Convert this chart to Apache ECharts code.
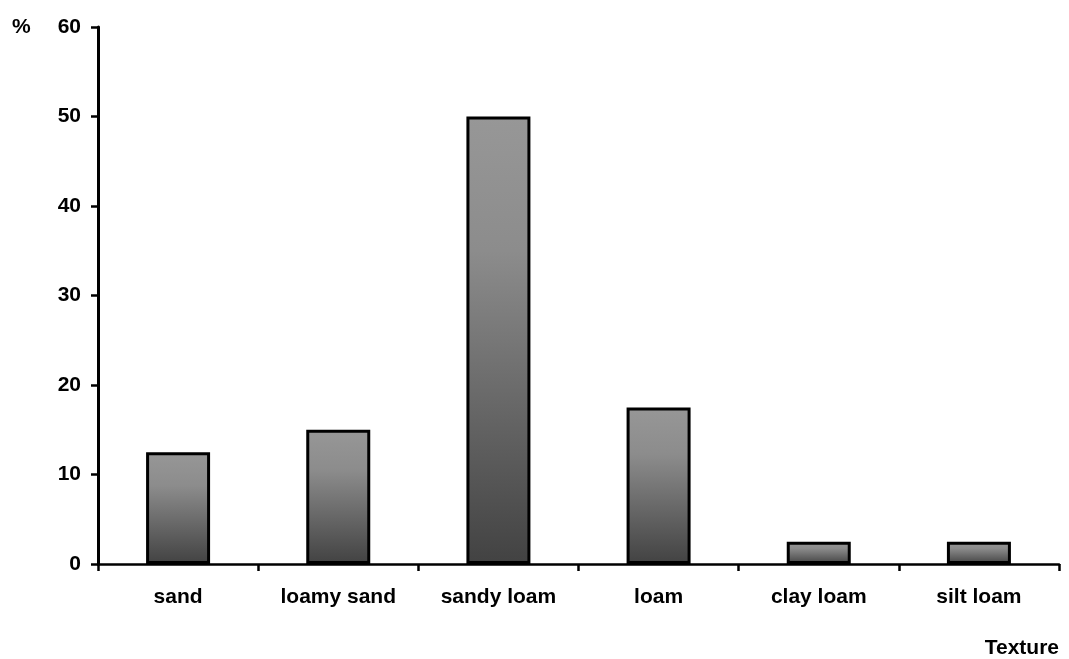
<!DOCTYPE html>
<html>
<head>
<meta charset="utf-8">
<script src="https://cdn.jsdelivr.net/npm/echarts@6/dist/echarts.min.js"></script>
<style>
  html, body { margin: 0; padding: 0; background: #fff; }
  #chart { width: 1069px; height: 659px; }
</style>
</head>
<body>
<div id="chart"></div>
<script>
// Soil texture distribution (%)
const textures = ['sand', 'loamy sand', 'sandy loam', 'loam', 'clay loam', 'silt loam'];
const percents = [12.5, 15, 50, 17.5, 2.5, 2.5];
const yTicks = { min: 0, max: 60, interval: 10 };

const font = 'Liberation Sans, Arial, sans-serif';
const fs = 21;
const chart = echarts.init(document.getElementById('chart'), null, { renderer: 'canvas' });

chart.setOption({
  backgroundColor: '#ffffff',
  animation: false,
  grid: { left: 98, right: 10, top: 27, bottom: 94, containLabel: false },
  xAxis: {
    type: 'category',
    data: textures,
    boundaryGap: true,
    axisLine: { lineStyle: { color: '#000', width: 2.5 } },
    axisTick: { show: true, alignWithLabel: false, length: 7, lineStyle: { color: '#000', width: 2.5 } },
    axisLabel: { color: '#000', fontFamily: font, fontWeight: 'bold', fontSize: fs, margin: 23 },
    name: 'Texture',
    nameLocation: 'end',
    nameGap: 0,
    nameTextStyle: {
      color: '#000', fontFamily: font, fontWeight: 'bold', fontSize: fs,
      align: 'right', verticalAlign: 'top', padding: [74, 0, 0, 0]
    }
  },
  yAxis: {
    type: 'value',
    min: yTicks.min,
    max: yTicks.max,
    interval: yTicks.interval,
    axisLine: { show: true, lineStyle: { color: '#000', width: 3 } },
    axisTick: { show: true, length: 7, lineStyle: { color: '#000', width: 2.5 } },
    splitLine: { show: false },
    axisLabel: { color: '#000', fontFamily: font, fontWeight: 'bold', fontSize: fs, margin: 17 },
    name: '%',
    nameLocation: 'end',
    nameGap: 0,
    nameTextStyle: {
      color: '#000', fontFamily: font, fontWeight: 'bold', fontSize: fs,
      align: 'left', verticalAlign: 'bottom', padding: [0, 0, -11, -86]
    }
  },
  series: [{
    type: 'bar',
    data: percents,
    barWidth: 64,
    itemStyle: {
      color: new echarts.graphic.LinearGradient(0, 0, 0, 1, [
        { offset: 0, color: '#979797' },
        { offset: 0.3, color: '#8c8c8c' },
        { offset: 1, color: '#424242' }
      ]),
      borderColor: '#000',
      borderWidth: 3
    }
  }]
});
</script>
</body>
</html>
